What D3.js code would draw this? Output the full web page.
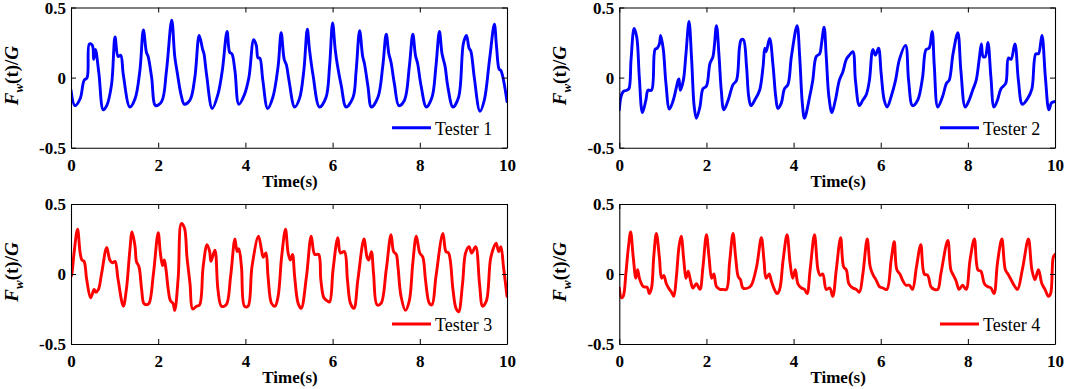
<!DOCTYPE html>
<html><head><meta charset="utf-8">
<script src="https://cdn.jsdelivr.net/npm/d3@7"></script>
<style>html,body{margin:0;padding:0;background:#fff;} svg{display:block;}</style>
</head><body>
<svg id="chart" width="1065" height="389"></svg>
<script>
const xTicks = [0, 2, 4, 6, 8, 10];
const yTicks = [-0.5, 0, 0.5];
const yTickLabels = ["-0.5", "0", "0.5"];
const seriesNames = ["Tester 1", "Tester 2", "Tester 3", "Tester 4"];
const seriesColors = ["#0000ff", "#0000ff", "#ff0000", "#ff0000"];
const xLabel = "Time(s)";

const tester1Time = [0,0.09,0.21,0.30,0.37,0.42,0.49,0.52,0.56,0.64,0.74,0.82,0.93,1.01,1.08,1.14,1.20,1.35,1.47,1.58,1.66,1.73,1.77,1.85,1.94,2.08,2.19,2.31,2.38,2.44,2.53,2.60,2.73,2.84,2.94,3.02,3.05,3.11,3.24,3.37,3.47,3.58,3.64,3.69,3.76,3.85,3.98,4.08,4.19,4.25,4.29,4.33,4.40,4.51,4.63,4.75,4.82,4.89,4.94,5.00,5.13,5.24,5.34,5.42,5.47,5.55,5.70,5.85,5.93,6.00,6.06,6.11,6.20,6.31,6.47,6.54,6.62,6.69,6.73,6.81,6.89,7.04,7.15,7.23,7.29,7.34,7.42,7.52,7.65,7.76,7.84,7.90,7.95,8.03,8.15,8.28,8.37,8.45,8.51,8.58,8.64,8.76,8.89,9.00,9.07,9.13,9.17,9.25,9.38,9.48,9.60,9.71,9.76,9.82,9.86,10.0];
const tester1Value = [-0.09,-0.20,-0.15,-0.02,0.0,0.24,0.23,0.13,0.20,0.03,-0.23,-0.20,-0.05,0.29,0.15,0.16,0.02,-0.21,-0.15,0.05,0.34,0.18,0.15,0.0,-0.20,-0.17,0.05,0.41,0.15,0.03,-0.13,-0.19,-0.16,0.0,0.30,0.20,0.17,0.02,-0.22,-0.12,0.05,0.33,0.18,0.17,0.05,-0.19,-0.12,0.0,0.27,0.23,0.14,0.14,-0.02,-0.22,-0.14,0.08,0.32,0.13,0.09,-0.02,-0.21,-0.15,0.05,0.345,0.20,0.02,-0.21,-0.14,0.08,0.39,0.20,0.09,-0.06,-0.21,-0.14,0.05,0.335,0.15,0.10,-0.06,-0.21,-0.14,0.08,0.31,0.17,0.11,-0.05,-0.20,-0.16,0.08,0.31,0.16,0.10,-0.06,-0.21,-0.14,0.08,0.33,0.17,0.08,-0.06,-0.21,-0.14,0.245,0.30,0.21,0.19,0.0,-0.24,-0.16,0.13,0.38,0.22,0.06,0.05,-0.17];

const tester2Time = [0,0.04,0.09,0.17,0.22,0.27,0.34,0.40,0.46,0.53,0.61,0.66,0.74,0.82,0.87,0.92,0.95,1.01,1.07,1.15,1.24,1.35,1.37,1.40,1.47,1.53,1.60,1.66,1.72,1.77,1.85,1.92,2.00,2.08,2.15,2.23,2.29,2.34,2.40,2.50,2.61,2.69,2.76,2.80,2.85,2.92,2.97,3.02,3.11,3.22,3.30,3.34,3.37,3.45,3.53,3.59,3.64,3.72,3.79,3.87,3.95,4.08,4.14,4.20,4.25,4.37,4.44,4.52,4.60,4.64,4.70,4.75,4.81,4.88,4.96,5.05,5.13,5.21,5.28,5.36,5.42,5.51,5.59,5.67,5.74,5.82,5.88,5.95,6.01,6.08,6.15,6.24,6.34,6.43,6.57,6.64,6.73,6.85,6.96,7.04,7.11,7.18,7.23,7.31,7.42,7.51,7.57,7.66,7.77,7.84,7.94,8.03,8.11,8.19,8.26,8.31,8.35,8.40,8.46,8.53,8.60,8.68,8.76,8.87,8.93,8.99,9.08,9.16,9.25,9.37,9.47,9.56,9.62,9.70,9.78,9.86,9.92,10.0];
const tester2Value = [-0.23,-0.135,-0.10,-0.09,-0.08,0.13,0.35,0.29,0.0,-0.25,-0.16,-0.09,-0.09,0.20,0.21,0.24,0.30,0.20,-0.04,-0.225,-0.16,-0.02,-0.01,-0.09,-0.02,0.17,0.40,0.13,-0.21,-0.29,-0.21,-0.08,-0.06,0.10,0.15,0.37,0.15,-0.09,-0.23,-0.16,-0.05,-0.02,0.22,0.27,0.27,0.08,-0.135,-0.20,-0.16,-0.09,0.08,0.21,0.185,0.28,0.08,-0.135,-0.22,-0.18,-0.08,-0.05,0.15,0.37,0.15,-0.18,-0.29,-0.135,-0.02,0.15,0.17,0.24,0.36,0.15,-0.135,-0.25,-0.16,-0.02,0.04,0.13,0.16,0.185,-0.02,-0.20,-0.16,-0.12,-0.02,0.20,0.16,0.21,0.03,-0.16,-0.21,-0.135,-0.02,0.13,0.23,-0.02,-0.20,-0.16,0.0,0.20,0.21,0.33,0.08,-0.21,-0.135,-0.04,-0.02,0.17,0.32,0.05,-0.21,-0.16,-0.09,-0.02,0.13,0.24,0.15,0.15,0.25,0.0,-0.21,-0.16,-0.08,-0.04,0.14,0.13,0.24,-0.02,-0.19,-0.15,-0.08,0.17,0.17,0.30,0.0,-0.23,-0.18,-0.17];

const tester3Time = [0,0.02,0.07,0.15,0.21,0.25,0.30,0.36,0.45,0.53,0.57,0.63,0.70,0.82,0.89,0.95,1.01,1.08,1.20,1.27,1.35,1.40,1.47,1.50,1.56,1.62,1.67,1.73,1.79,1.89,2.00,2.05,2.10,2.14,2.18,2.23,2.28,2.34,2.38,2.46,2.53,2.60,2.66,2.73,2.79,2.88,2.95,3.03,3.12,3.18,3.21,3.30,3.37,3.45,3.56,3.66,3.76,3.81,3.85,3.91,3.98,4.06,4.15,4.30,4.37,4.41,4.47,4.52,4.60,4.68,4.75,4.83,4.92,4.98,5.03,5.08,5.13,5.21,5.28,5.40,5.51,5.59,5.68,5.73,5.80,5.87,5.93,6.01,6.12,6.18,6.27,6.34,6.41,6.49,6.58,6.72,6.79,6.83,6.89,6.94,7.02,7.11,7.23,7.34,7.40,7.46,7.50,7.57,7.67,7.76,7.84,7.92,8.00,8.07,8.13,8.22,8.28,8.37,8.53,8.60,8.66,8.76,8.83,8.89,8.98,9.05,9.13,9.19,9.28,9.37,9.44,9.53,9.63,9.75,9.81,9.86,9.92,10.0];
const tester3Value = [-0.02,0.0,0.15,0.32,0.15,0.10,0.09,-0.04,-0.17,-0.11,-0.13,-0.11,0.0,0.19,0.10,0.08,0.09,-0.04,-0.23,-0.11,0.17,0.30,0.195,0.09,0.05,-0.11,-0.21,-0.22,-0.21,0.0,0.295,0.15,0.06,0.10,0.03,-0.11,-0.19,-0.21,-0.26,-0.02,0.36,0.33,0.12,-0.07,-0.25,-0.23,-0.22,0.05,0.21,0.16,0.09,0.17,-0.11,-0.23,-0.22,-0.02,0.25,0.16,0.18,0.05,-0.23,-0.23,0.05,0.27,0.17,0.12,0.15,-0.02,-0.21,-0.23,-0.16,0.12,0.32,0.15,0.10,0.14,-0.02,-0.21,-0.245,-0.02,0.27,0.14,0.14,-0.04,-0.17,-0.19,-0.20,0.03,0.26,0.15,0.16,-0.04,-0.21,-0.245,-0.04,0.25,0.12,0.10,0.16,0.0,-0.22,-0.21,0.03,0.28,0.16,0.14,0.05,-0.16,-0.26,-0.19,0.08,0.27,0.15,0.12,-0.04,-0.21,-0.22,-0.02,0.29,0.16,0.15,-0.11,-0.245,-0.27,-0.07,0.15,0.195,0.15,0.195,-0.07,-0.23,-0.19,0.12,0.22,0.16,0.195,0.05,-0.16];

const tester4Time = [0,0.05,0.09,0.15,0.21,0.26,0.32,0.38,0.42,0.47,0.55,0.64,0.69,0.74,0.79,0.85,0.92,0.97,1.02,1.08,1.15,1.20,1.25,1.31,1.37,1.42,1.48,1.53,1.58,1.63,1.69,1.77,1.85,1.92,2.00,2.06,2.12,2.17,2.23,2.31,2.38,2.46,2.53,2.61,2.67,2.73,2.78,2.84,2.95,3.03,3.15,3.26,3.32,3.37,3.44,3.49,3.56,3.62,3.68,3.76,3.85,3.92,3.98,4.04,4.10,4.18,4.25,4.31,4.38,4.48,4.56,4.61,4.67,4.75,4.83,4.90,4.98,5.08,5.15,5.21,5.27,5.36,5.44,5.51,5.59,5.69,5.76,5.83,5.89,5.97,6.05,6.14,6.24,6.31,6.37,6.44,6.51,6.58,6.66,6.73,6.82,6.92,7.00,7.08,7.15,7.23,7.31,7.38,7.54,7.61,7.67,7.73,7.80,7.88,7.96,8.05,8.15,8.23,8.30,8.38,8.45,8.53,8.60,8.68,8.78,8.86,8.92,8.99,9.06,9.14,9.25,9.39,9.47,9.54,9.62,9.70,9.77,9.85,9.90,9.96,10.0];
const tester4Value = [-0.10,-0.17,-0.16,0.0,0.195,0.30,0.12,-0.03,0.03,-0.04,-0.09,-0.095,-0.14,-0.10,0.12,0.29,0.12,-0.03,-0.01,-0.07,-0.11,-0.13,-0.16,-0.02,0.195,0.27,0.10,-0.03,0.02,-0.04,-0.10,-0.07,-0.11,0.05,0.28,0.12,-0.03,0.0,-0.09,-0.11,-0.11,-0.11,0.08,0.29,0.12,-0.02,-0.04,-0.10,-0.10,-0.08,0.05,0.26,0.10,-0.03,0.0,-0.05,-0.11,-0.14,-0.11,0.10,0.28,0.08,-0.03,0.03,-0.07,-0.10,-0.11,-0.14,0.03,0.28,0.03,-0.01,0.0,-0.11,-0.10,-0.16,0.03,0.26,0.05,0.03,-0.07,-0.10,-0.11,-0.13,0.0,0.25,0.05,-0.01,-0.04,-0.09,-0.10,-0.11,0.10,0.23,0.03,0.0,-0.05,-0.08,-0.08,-0.11,0.05,0.21,0.0,-0.01,-0.09,-0.11,-0.11,0.0,0.24,0.03,-0.01,-0.05,-0.11,-0.08,-0.11,0.10,0.25,0.03,0.02,-0.07,-0.09,-0.10,-0.14,0.08,0.25,0.03,0.0,-0.04,-0.08,-0.11,0.03,0.25,0.03,-0.04,0.03,-0.07,-0.11,-0.16,-0.14,0.12,0.14];

const seriesTimes = [tester1Time, tester2Time, tester3Time, tester4Time];
const seriesValues = [tester1Value, tester2Value, tester3Value, tester4Value];

const svg = d3.select("#chart");
const font = "'Liberation Serif','Times New Roman',Times,serif";
const panels = [
  {x0: 71, x1: 507, y0: 7.5, y1: 147.7},
  {x0: 619.3, x1: 1055, y0: 7.5, y1: 147.7},
  {x0: 71, x1: 507, y0: 204, y1: 344},
  {x0: 619.3, x1: 1055, y0: 204, y1: 344}
];

panels.forEach((p, i) => {
  const x = d3.scaleLinear().domain([0, 10]).range([p.x0, p.x1]);
  const y = d3.scaleLinear().domain([-0.5, 0.5]).range([p.y1, p.y0]);
  const g = svg.append("g");

  g.append("clipPath").attr("id", "clip" + i)
    .append("rect").attr("x", p.x0).attr("y", p.y0)
    .attr("width", p.x1 - p.x0).attr("height", p.y1 - p.y0);

  const data = seriesTimes[i].map((t, k) => [t, seriesValues[i][k]]);
  const line = d3.line().x(d => x(d[0])).y(d => y(d[1])).curve(d3.curveCatmullRom.alpha(0.5));
  g.append("path").datum(data)
    .attr("clip-path", "url(#clip" + i + ")")
    .attr("d", line).attr("fill", "none")
    .attr("stroke", seriesColors[i]).attr("stroke-width", 2.9)
    .attr("stroke-linejoin", "round").attr("stroke-linecap", "round");

  // axes
  const bottom = g.append("g").attr("transform", `translate(0,${p.y1})`)
    .call(d3.axisBottom(x).tickValues(xTicks).tickSizeInner(-5).tickSizeOuter(0).tickPadding(11).tickFormat(d3.format("d")));
  const top = g.append("g").attr("transform", `translate(0,${p.y0})`)
    .call(d3.axisTop(x).tickValues(xTicks).tickSizeInner(-5).tickSizeOuter(0).tickFormat(""));
  const left = g.append("g").attr("transform", `translate(${p.x0},0)`)
    .call(d3.axisLeft(y).tickValues(yTicks).tickSizeInner(-5).tickSizeOuter(0).tickPadding(5)
      .tickFormat((d, k) => yTickLabels[k]));
  const right = g.append("g").attr("transform", `translate(${p.x1},0)`)
    .call(d3.axisRight(y).tickValues(yTicks).tickSizeInner(-5).tickSizeOuter(0).tickFormat(""));
  [bottom, top, left, right].forEach(a => {
    a.select(".domain").attr("stroke", "#000").attr("stroke-width", 1.1);
    a.selectAll(".tick line").attr("stroke", "#000").attr("stroke-width", 1);
    a.selectAll("text").attr("font-family", font).attr("font-size", 17)
      .attr("font-weight", "bold").attr("fill", "#000");
  });
  left.selectAll("text").attr("dy", "0.34em");

  // x label
  g.append("text").attr("x", (p.x0 + p.x1) / 2 + 1).attr("y", p.y1 + 39)
    .attr("text-anchor", "middle").attr("font-family", font)
    .attr("font-size", 17).attr("font-weight", "bold").text(xLabel);

  // y label
  const yl = g.append("text")
    .attr("transform", `translate(${p.x0 - 53},${(p.y0 + p.y1) / 2 - 2}) rotate(-90)`)
    .attr("text-anchor", "middle").attr("font-family", font)
    .attr("font-size", 19).attr("font-weight", "bold");
  yl.append("tspan").attr("font-style", "italic").text("F");
  yl.append("tspan").attr("font-style", "italic").attr("font-size", 13).attr("dy", 5).text("w");
  yl.append("tspan").attr("dy", -5).text("(t)/");
  yl.append("tspan").attr("font-style", "italic").text("G");

  // legend
  const ly = p.y1 - 20;
  g.append("line").attr("x1", p.x1 - 115).attr("x2", p.x1 - 76)
    .attr("y1", ly).attr("y2", ly)
    .attr("stroke", seriesColors[i]).attr("stroke-width", 2.9);
  g.append("text").attr("x", p.x1 - 72).attr("y", p.y1 - 13)
    .attr("font-family", font).attr("font-size", 18).attr("fill", "#000")
    .text(seriesNames[i]);
});
</script>
</body></html>
